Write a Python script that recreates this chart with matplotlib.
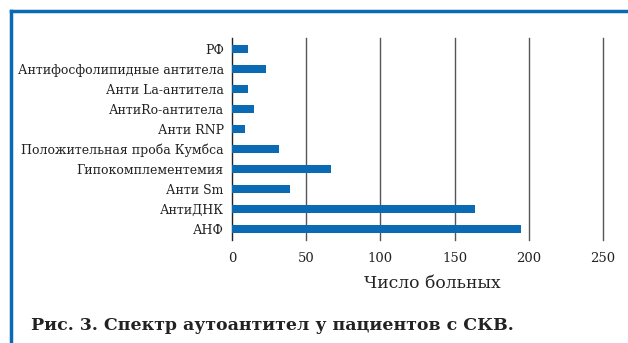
import matplotlib
matplotlib.use("Agg")
import matplotlib.pyplot as plt
from matplotlib.lines import Line2D

categories = ["АНФ", "АнтиДНК", "Анти Sm", "Гипокомплементемия",
              "Положительная проба Кумбса", "Анти RNP", "АнтиRo-антитела",
              "Анти La-антитела", "Антифосфолипидные антитела", "РФ"]
patients = [195, 164, 39, 67, 32, 9, 15, 11, 23, 11]
x_ticks = [0, 50, 100, 150, 200, 250]

plt.rcParams['font.family'] = ['DejaVu Serif']

fig = plt.figure(figsize=(6.28, 3.43), dpi=100)
ax = fig.add_axes([232 / 628, 1 - 240 / 343, 371 / 628, 202 / 343])

ypos = range(len(categories))
ax.barh(ypos, patients, height=0.42, color='#0a6ab4', zorder=3)
ax.set_yticks(list(ypos))
ax.set_yticklabels(categories, fontsize=9, color='#222222')
ax.set_ylim(-0.55, len(categories) - 0.45)
ax.set_xlim(0, 250)
ax.set_xticks(x_ticks)
ax.set_xticklabels([str(t) for t in x_ticks], fontsize=9.5, color='#222222')
ax.tick_params(axis='both', length=0, pad=6)
ax.tick_params(axis='x', pad=9)
ax.set_xlabel("Число больных", fontsize=12.3, color='#222222', labelpad=9)
ax.xaxis.set_label_coords(0.54, -0.175)

for t in x_ticks[1:]:
    ax.axvline(t, color='#555555', linewidth=1.0, zorder=1, clip_on=False)
for s in ['top', 'right', 'bottom']:
    ax.spines[s].set_visible(False)
ax.spines['left'].set_color('#222222')
ax.spines['left'].set_linewidth(1.0)

# blue frame (top and left edges)
fig.add_artist(Line2D([11 / 628, 11 / 628], [0, 1 - 11 / 343], color='#0a6ab4', linewidth=2.5))
fig.add_artist(Line2D([11 / 628, 1], [1 - 11 / 343, 1 - 11 / 343], color='#0a6ab4', linewidth=2.5))

fig.text(31 / 628, 1 - 325 / 343, "Рис. 3. Спектр аутоантител у пациентов с СКВ.",
         fontsize=12.5, fontweight='bold', color='#222222', va='center', ha='left')

fig.savefig("out.png", dpi=100)
